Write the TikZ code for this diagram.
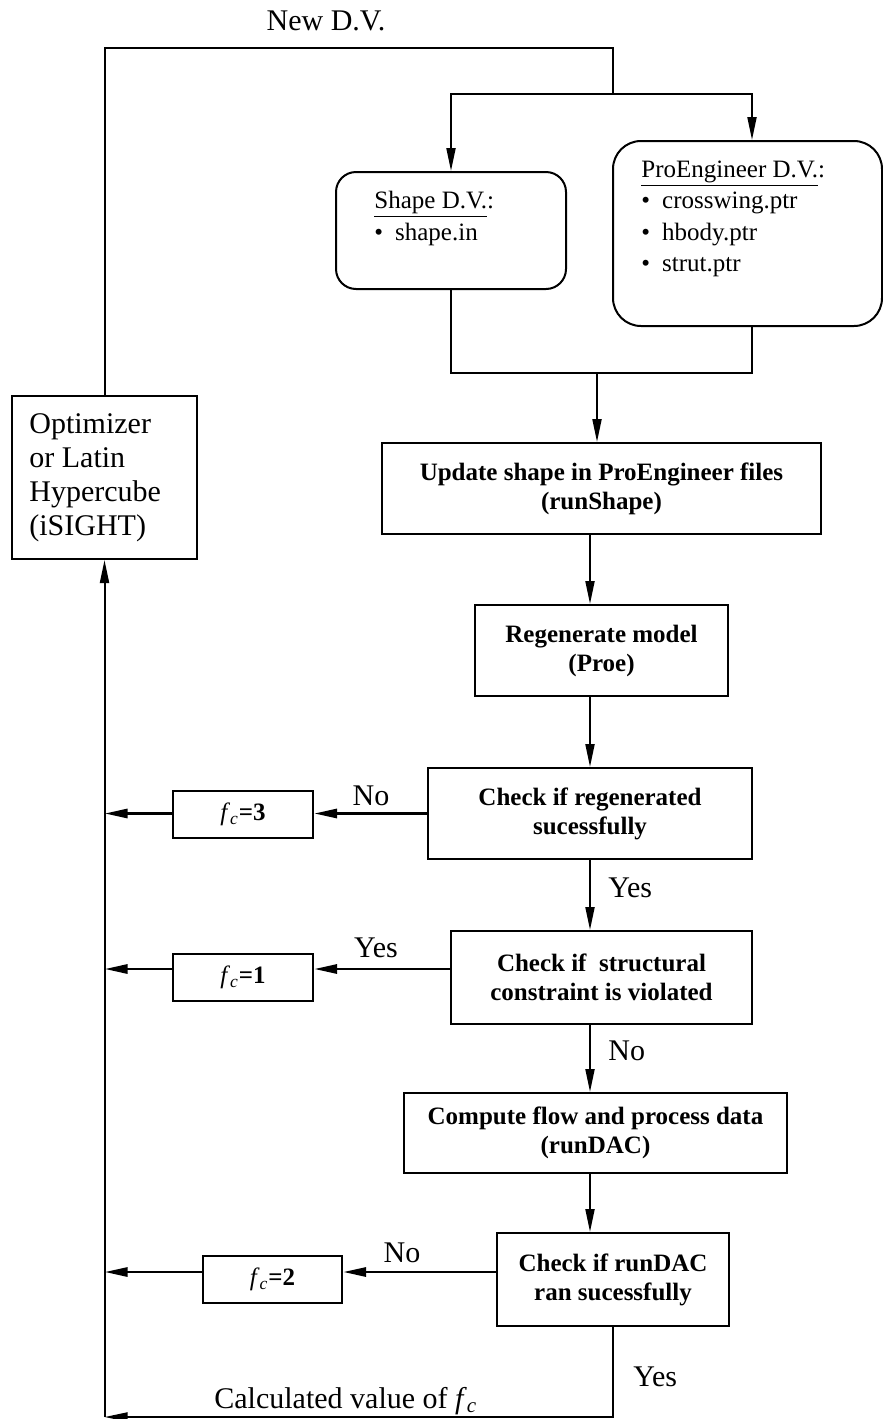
\documentclass[tikz,border=0pt]{standalone}
\usepackage{fontspec}
\setmainfont{Liberation Serif}
\usetikzlibrary{arrows.meta}
\begin{document}
\begin{tikzpicture}[x=0.5pt,y=-0.5pt,
  line/.style={draw, line width=1pt},
  arr/.style={draw, line width=1pt, -{Triangle[length=11.5pt,width=4.5pt]}},
  harr/.style={draw, line width=1.4pt, -{Triangle[length=11.5pt,width=4.5pt]}},
  box/.style={draw, line width=1pt, inner sep=0pt, align=center,
    font=\fontsize{12.5pt}{14.5pt}\selectfont\bfseries},
  rbox/.style={draw, line width=1pt, inner sep=0pt},
  lbl/.style={inner sep=0pt, font=\fontsize{15pt}{17pt}\selectfont},
  itm/.style={inner sep=0pt, anchor=base west, font=\fontsize{12.5pt}{15pt}\selectfont},
  fcbox/.style={draw, line width=1pt, inner sep=0pt, minimum width=70pt, minimum height=23.5pt,
    font=\fontsize{12.5pt}{14.5pt}\selectfont}
]
\useasboundingbox (0,0) rectangle (883,1419);

% boxes
\node[rbox, rounded corners=10pt, minimum width=115pt, minimum height=58.5pt] (shape) at (451,230.5) {};
\node[rbox, rounded corners=14pt, minimum width=134.5pt, minimum height=92.5pt] (proe) at (747.5,233.5) {};
\node[rbox, minimum width=92.5pt, minimum height=81.5pt] (opt) at (104.5,477.5) {};
\node[box, minimum width=219.5pt, minimum height=45.5pt] (update) at (601.5,488.5) {Update shape in ProEngineer files\\(runShape)};
\node[box, minimum width=126.5pt, minimum height=45.5pt] (regen) at (601.5,650.5) {Regenerate model\\(Proe)};
\node[box, minimum width=162pt, minimum height=45.5pt] (check1) at (590,813.5) {Check if regenerated\\sucessfully};
\node[box, minimum width=150.5pt, minimum height=46.5pt] (check2) at (601.5,977.5) {Check if\ \ structural\\constraint is violated};
\node[box, minimum width=191.5pt, minimum height=40pt] (compute) at (595.5,1133) {Compute flow and process data\\(runDAC)};
\node[box, minimum width=116pt, minimum height=46.5pt] (check3) at (613,1279.5) {Check if runDAC\\ran sucessfully};
\node[fcbox] (fc3) at (243,814.5) {\textit{f}\textsubscript{\textit{c}}\textbf{=3}};
\node[fcbox] (fc1) at (243,977.5) {\textit{f}\textsubscript{\textit{c}}\textbf{=1}};
\node[fcbox, minimum width=69.5pt] (fc2) at (272.5,1279.5) {\textit{f}\textsubscript{\textit{c}}\textbf{=2}};

% box texts
\node[itm] (s1) at (374,208) {\underline{Shape D.V.}:};
\node[itm] (s2) at (374,240) {•\hspace{6pt}shape.in};
\node[itm] (p1) at (641,177) {\underline{ProEngineer D.V.}:};
\node[itm] (p2) at (641,208) {•\hspace{6pt}crosswing.ptr};
\node[itm] (p3) at (641,240) {•\hspace{6pt}hbody.ptr};
\node[itm] (p4) at (641,271) {•\hspace{6pt}strut.ptr};
\node[lbl, anchor=base west] (o1) at (29,433) {Optimizer};
\node[lbl, anchor=base west] (o2) at (29,467) {or Latin};
\node[lbl, anchor=base west] (o3) at (29,501) {Hypercube};
\node[lbl, anchor=base west] (o4) at (29,535) {(iSIGHT)};

% labels
\node[lbl, anchor=base] (newdv) at (326,30) {New D.V.};
\node[lbl, anchor=base] (no1) at (371,805) {No};
\node[lbl, anchor=base west] (yes1) at (608,897) {Yes};
\node[lbl, anchor=base] (yes2) at (376,957) {Yes};
\node[lbl, anchor=base west] (no2) at (608,1060) {No};
\node[lbl, anchor=base] (no3) at (402,1262) {No};
\node[lbl, anchor=base west] (yes3) at (633,1386) {Yes};
\node[lbl, anchor=base west] (calc) at (214,1408) {Calculated value of \textit{f}\textsubscript{\textit{c}}};

% coordinates
\coordinate (nv) at (613,48);
\coordinate (br) at (613,94);
\coordinate (xr) at (752,0);
\coordinate (mL) at (451,373);
\coordinate (mR) at (752,373);
\coordinate (mg) at (597,373);
\coordinate (sp) at (590,0);
\coordinate (y2) at (0,969);
\coordinate (y3) at (0,1272);
\coordinate (bl) at (613,1417);

% top loop
\draw[line] (opt.north) |- (nv) -- (br);
\draw[arr] (br) -| (shape.north);
\draw[arr] (br) -| (proe.north -| xr);
\draw[line] (shape.south) |- (mR) -- (proe.south -| xr);
\draw[arr] (mg) -- (update.north -| mg);

% main chain
\draw[arr] (update.south -| sp) -- (regen.north -| sp);
\draw[arr] (regen.south -| sp) -- (check1.north -| sp);
\draw[arr] (check1.south -| sp) -- (check2.north -| sp);
\draw[arr] (check2.south -| sp) -- (compute.north -| sp);
\draw[arr] (compute.south -| sp) -- (check3.north -| sp);

% failure branches
\draw[harr] (check1.west) -- (fc3.east |- check1.west);
\draw[harr] (fc3.west |- check1.west) -- (opt.south |- check1.west);
\draw[harr] (check2.west |- y2) -- (fc1.east |- y2);
\draw[harr] (fc1.west |- y2) -- (opt.south |- y2);
\draw[harr] (check3.west |- y3) -- (fc2.east |- y3);
\draw[harr] (fc2.west |- y3) -- (opt.south |- y3);

% return
\draw[arr] (check3.south) -- (bl) -- (opt.south |- bl);
\draw[arr] (opt.south |- bl) -- (opt.south);
\end{tikzpicture}
\end{document}
